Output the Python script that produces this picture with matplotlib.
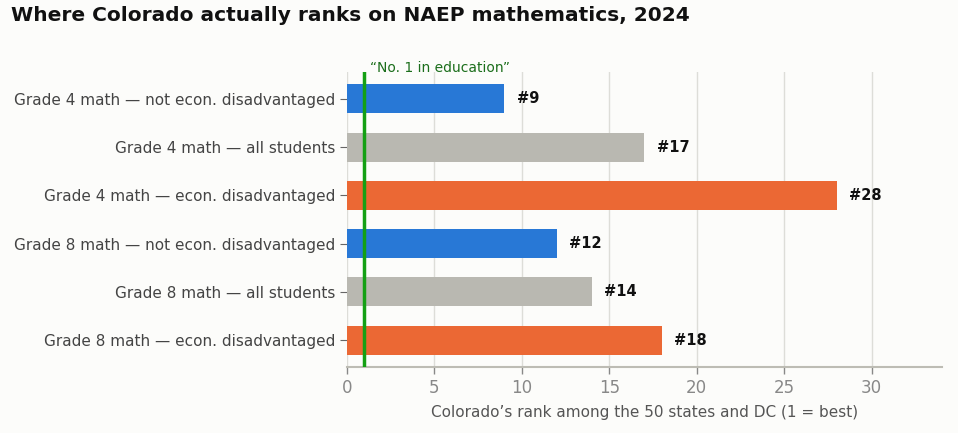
import matplotlib
matplotlib.use('Agg')
import matplotlib.pyplot as plt

plt.rcParams['font.family'] = ['DejaVu Sans']

categories = [
    "Grade 4 math — not econ. disadvantaged",
    "Grade 4 math — all students",
    "Grade 4 math — econ. disadvantaged",
    "Grade 8 math — not econ. disadvantaged",
    "Grade 8 math — all students",
    "Grade 8 math — econ. disadvantaged",
]
ranks = [9, 17, 28, 12, 14, 18]
groups = ["not", "all", "econ", "not", "all", "econ"]
group_colors = {"not": "#2878D6", "all": "#B9B8B1", "econ": "#EB6834"}
claimed_rank = 1

bg = "#FCFCFA"
fig = plt.figure(figsize=(9.58, 4.33), dpi=100, facecolor=bg)
ax = fig.add_axes([0.362, 0.152, 0.621, 0.682], facecolor=bg)

y = list(range(len(categories)))
ax.barh(y, ranks, height=0.6, color=[group_colors[g] for g in groups], zorder=2)
for yi, r in zip(y, ranks):
    ax.text(r + 0.7, yi, f"#{r}", va="center", ha="left",
            fontsize=10.5, fontweight="bold", color="#111111")

ax.axvline(claimed_rank, color="#14A014", lw=2.5, zorder=3)
ax.text(claimed_rank + 0.3, -0.5, "“No. 1 in education”", color="#1B6E1B",
        fontsize=10, ha="left", va="bottom")

ax.set_yticks(y)
ax.set_yticklabels(categories, fontsize=11, color="#444444")
ax.set_ylim(5.56, -0.56)
ax.set_xlim(0, 34)
ax.set_xticks([0, 5, 10, 15, 20, 25, 30])
ax.tick_params(axis="x", labelsize=12, colors="#888888", length=5, width=1)
ax.tick_params(axis="y", length=5, colors="#666666", labelcolor="#444444")
ax.set_xlabel("Colorado’s rank among the 50 states and DC (1 = best)",
              fontsize=11, color="#555555", labelpad=6)

ax.grid(axis="x", color="#DDDDD8", lw=1, zorder=0)
for s in ["top", "right", "left"]:
    ax.spines[s].set_visible(False)
ax.spines["bottom"].set_color("#BDBCB4")
ax.spines["bottom"].set_linewidth(1.5)

fig.text(0.012, 0.965, "Where Colorado actually ranks on NAEP mathematics, 2024",
         fontsize=14.5, fontweight="bold", ha="left", va="center", color="#111111")

fig.savefig("out.png", dpi=100, facecolor=bg)
